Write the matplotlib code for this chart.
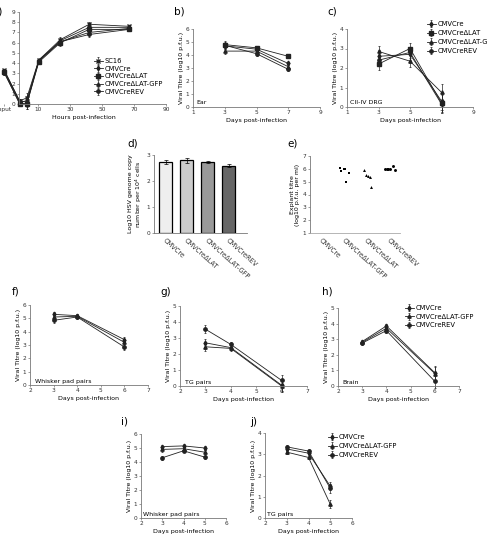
import numpy as np
import matplotlib
matplotlib.use("Agg")
from matplotlib import pyplot as plt

plt.rcParams['font.family'] = ['DejaVu Sans']

# ---- data ----
hours_a = [-11, -1.5, 3, 10.5, 24, 42, 67]
names_a = ["SC16", "CMVCre", "CMVCre\u0394LAT", "CMVCre\u0394LAT-GFP", "CMVCreREV"]
sc16_a = [3.3, 0.3, 0.6, 4.3, 6.3, 7.8, 7.6]
cre_a = [3.2, 0.2, 0.3, 4.2, 6.2, 7.5, 7.5]
dlat_a = [3.1, 0.0, 0.0, 4.1, 6.0, 7.3, 7.3]
gfp_a = [3.2, 0.3, 0.2, 4.3, 6.1, 7.0, 7.4]
rev_a = [3.0, 0.1, 0.0, 4.2, 6.1, 6.8, 7.3]
err_a = [0.15, 0.2, 0.5, 0.15, 0.3, 0.25, 0.15]

days_bc = [3, 5, 7]
names_bc = ["CMVCre", "CMVCre\u0394LAT", "CMVCre\u0394LAT-GFP", "CMVCreREV"]
ear_b = [[4.7, 4.45, 3.35], [4.8, 4.55, 3.9], [4.3, 4.3, 3.1], [4.75, 4.1, 2.9]]
err_b = [0.25, 0.15, 0.15]
drg_c = [[2.6, 2.7, 0.3], [2.2, 3.0, 0.2], [2.85, 2.35, 0.75], [2.4, 2.8, 0.15]]
err_c = [0.3, 0.3, 0.45]

cats_d = ["CMVCre", "CMVCre\u0394LAT", "CMVCre\u0394LAT-GFP", "CMVCreREV"]
vals_d = [2.74, 2.8, 2.74, 2.58]
err_d = [0.08, 0.1, 0.03, 0.06]
cols_d = ['#eeeeee', '#cccccc', '#999999', '#666666']

cats_e = ["CMVCre", "CMVCre\u0394LAT-GFP", "CMVCre\u0394LAT", "CMVCreREV"]
pts_e = [[5.55, 6.1, 5.6, 5.85, 6.65],
         [6.05, 5.8, 5.95, 6.0, 4.95, 5.65],
         [5.9, 5.5, 5.45, 5.35, 4.55],
         [6.0, 5.95, 5.95, 6.0, 6.25, 5.9]]
jit_e = [[-0.21, -0.1, 0.0, 0.09, 0.21],
         [-0.22, -0.15, -0.04, 0.0, 0.07, 0.19],
         [-0.15, -0.04, 0.03, 0.1, 0.18],
         [-0.22, -0.15, -0.07, 0.0, 0.12, 0.22]]

names_fj = ["CMVCre", "CMVCre\u0394LAT-GFP", "CMVCreREV"]
days_fgh = [3, 4, 6]
wp_f = [[5.3, 5.2, 3.4], [5.1, 5.15, 3.2], [4.85, 5.1, 2.85]]
err_f = [0.2, 0.15, 0.2]
tg_g = [[2.7, 2.4, 0.05], [2.45, 2.35, 0.0], [3.55, 2.6, 0.35]]
err_g = [0.25, 0.15, 0.35]
br_h = [[2.85, 3.85, 0.85], [2.8, 3.7, 0.8], [2.75, 3.55, 0.3]]
err_h = [0.1, 0.15, 0.45]
days_ij = [3, 4, 5]
wp_i = [[5.1, 5.15, 5.0], [4.9, 4.95, 4.7], [4.3, 4.8, 4.35]]
err_i = [0.15, 0.12, 0.15]
tg_j = [[3.25, 3.05, 1.5], [3.1, 2.85, 0.65], [3.35, 3.15, 1.4]]
err_j = [0.08, 0.08, 0.2]

W, H = 488, 536
fig = plt.figure(figsize=(W / 100, H / 100), dpi=100)

TICK = 4.2
LAB = 4.5
spine_c = '#777777'


def add_ax(x0, x1, ytop, ybot, xlim, ylim):
    ax = fig.add_axes([x0 / W, 1 - ybot / H, (x1 - x0) / W, (ybot - ytop) / H])
    ax.set_xlim(xlim)
    ax.set_ylim(ylim)
    ax.patch.set_alpha(0)
    for s in ['top', 'right']:
        ax.spines[s].set_visible(False)
    for s in ['left', 'bottom']:
        ax.spines[s].set_color(spine_c)
        ax.spines[s].set_linewidth(0.6)
    ax.tick_params(labelsize=TICK, length=1.5, width=0.5, color=spine_c, pad=1,
                   labelcolor='#333333')
    return ax


def panel(label, x, y):
    fig.text(x / W, 1 - y / H, label, fontsize=7.5, ha='center', va='center')


mk = {"SC16": 'x', "CMVCre": 'd', "CMVCre\u0394LAT": 's',
      "CMVCre\u0394LAT-GFP": '^', "CMVCreREV": 'o'}


def lines(ax, x, series, names, err):
    for ys, nm in zip(series, names):
        ax.errorbar(x, ys, yerr=err, color='#222222', lw=0.6, marker=mk[nm], ms=2.4,
                    elinewidth=0.5, capsize=0.8, capthick=0.5, label=nm, clip_on=False)


def leg(ax, x, y, spacing):
    ax.legend(loc='upper left', bbox_to_anchor=(x / W, 1 - y / H),
              bbox_transform=fig.transFigure, frameon=False, fontsize=4.9,
              handlelength=1.3, handletextpad=0.2, labelspacing=spacing,
              borderpad=0, borderaxespad=0)


def days_lab(ax):
    ax.set_xlabel("Days post-infection", fontsize=LAB, labelpad=1.5)


def titre_lab(ax):
    ax.set_ylabel("Viral Titre (log10 p.f.u.)", fontsize=LAB, labelpad=1.5)


# ---- a ----
ax = add_ax(1.2, 166, 12, 104, (-13, 90), (0, 9))
ax.spines['left'].set_position(('data', -2))
ax.spines['bottom'].set_bounds(-2, 90)
lines(ax, hours_a, [sc16_a, cre_a, dlat_a, gfp_a, rev_a], names_a, err_a)
ax.set_xticks([-11, 10, 30, 50, 70, 90], ["Input", "10", "30", "50", "70", "90"])
ax.set_yticks(range(10))
ax.set_xlabel("Hours post-infection", fontsize=LAB, labelpad=1.5)
leg(ax, 94, 58, 0.25)
panel("a)", -2, 11)

# ---- b ----
ax = add_ax(193, 320, 29, 107, (1, 9), (0, 6))
lines(ax, days_bc, ear_b, names_bc, err_b)
ax.set_xticks([1, 3, 5, 7, 9])
ax.set_yticks(range(7))
days_lab(ax)
titre_lab(ax)
ax.text(1.2, 0.2, "Ear", fontsize=LAB)
panel("b)", 179, 11)

# ---- c ----
ax = add_ax(347, 473, 29, 107, (1, 9), (0, 4))
lines(ax, days_bc, drg_c, names_bc, err_c)
ax.set_xticks([1, 3, 5, 7, 9])
ax.set_yticks(range(5))
days_lab(ax)
titre_lab(ax)
ax.text(1.2, 0.13, "CII-IV DRG", fontsize=LAB)
leg(ax, 427, 21, 0.45)
panel("c)", 332, 11)

# ---- d ----
ax = add_ax(154, 247, 155, 233, (-0.57, 3.86), (0, 3))
xd = np.arange(len(vals_d))
ax.bar(xd, vals_d, width=0.62, color=cols_d, edgecolor='black', linewidth=0.9,
       yerr=err_d, error_kw=dict(elinewidth=0.5, capsize=1.5, capthick=0.5))
ax.set_yticks(range(4))
ax.set_xticks(xd)
ax.set_xticklabels(cats_d, rotation=-42, ha='left', va='top', rotation_mode='anchor',
                   fontsize=4.8)
ax.tick_params(axis='x', length=0, pad=3)
ax.set_ylabel("Log10 HSV genome copy\nnumber per 10$^4$ cells", fontsize=LAB,
              labelpad=2, linespacing=1.1)
panel("d)", 133, 143)

# ---- e ----
ax = add_ax(310, 400, 156, 233, (0.47, 4.44), (1, 7))
emk = ['P', 's', '^', 'o']
for i, (ys, js) in enumerate(zip(pts_e, jit_e)):
    ax.scatter(np.array(js) + i + 1, ys, s=4.5, marker=emk[i], color='black', lw=0)
ax.set_yticks(range(1, 8))
ax.set_xticks(range(1, 5))
ax.set_xticklabels(cats_e, rotation=-42, ha='left', va='top', rotation_mode='anchor',
                   fontsize=4.8)
ax.tick_params(axis='x', length=0, pad=3)
ax.spines['bottom'].set_color('#aaaaaa')
ax.set_ylabel("Explant titre\n(log10 p.f.u. per ml)", fontsize=LAB, labelpad=2,
              linespacing=1.1)
panel("e)", 293, 143)

# ---- f ----
ax = add_ax(30, 148, 305, 385, (2, 7), (0, 6))
lines(ax, days_fgh, wp_f, names_fj, err_f)
ax.set_xticks(range(2, 8))
ax.set_yticks(range(7))
days_lab(ax)
titre_lab(ax)
ax.text(2.2, 0.15, "Whisker pad pairs", fontsize=LAB)
panel("f)", 16, 292)

# ---- g ----
ax = add_ax(180, 307, 306, 386, (2, 7), (0, 5))
lines(ax, days_fgh, tg_g, names_fj, err_g)
ax.set_xticks(range(2, 8))
ax.set_yticks(range(6))
days_lab(ax)
titre_lab(ax)
ax.text(2.2, 0.13, "TG pairs", fontsize=LAB)
panel("g)", 166, 292)

# ---- h ----
ax = add_ax(338, 459, 308, 386, (2, 7), (0, 5))
lines(ax, days_fgh, br_h, names_fj, err_h)
ax.set_xticks(range(2, 8))
ax.set_yticks(range(6))
days_lab(ax)
titre_lab(ax)
ax.text(2.2, 0.13, "Brain", fontsize=LAB)
leg(ax, 405, 305, 0.4)
panel("h)", 327, 292)

# ---- i ----
ax = add_ax(141, 226, 434, 518, (2, 6), (0, 6))
lines(ax, days_ij, wp_i, names_fj, err_i)
ax.set_xticks(range(2, 7))
ax.set_yticks(range(7))
days_lab(ax)
titre_lab(ax)
ax.text(2.1, 0.15, "Whisker pad pairs", fontsize=LAB)
panel("i)", 125, 422)

# ---- j ----
ax = add_ax(265, 352, 433, 518, (2, 6), (0, 4))
lines(ax, days_ij, tg_j, names_fj, err_j)
ax.set_xticks(range(2, 7))
ax.set_yticks(range(5))
days_lab(ax)
titre_lab(ax)
ax.text(2.1, 0.1, "TG pairs", fontsize=LAB)
leg(ax, 328, 434, 0.45)
panel("j)", 254, 422)

fig.savefig("out.png", dpi=100)
